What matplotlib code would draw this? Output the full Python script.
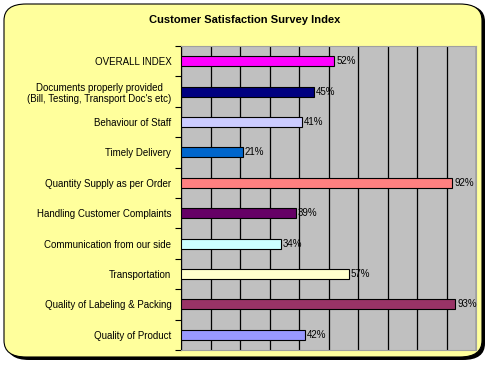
import numpy as np
import matplotlib
matplotlib.use("Agg")
import matplotlib.pyplot as plt
from matplotlib.patches import FancyBboxPatch
from matplotlib.ticker import FixedLocator, NullFormatter

plt.rcParams["font.family"] = ["Liberation Sans", "DejaVu Sans"]

CATEGORIES = ["OVERALL INDEX",
              "Documents properly provided\n(Bill, Testing, Transport Doc's etc)",
              "Behaviour of Staff", "Timely Delivery", "Quantity Supply as per Order",
              "Handling Customer Complaints", "Communication from our side",
              "Transportation", "Quality of Labeling & Packing", "Quality of Product"]
VALUES = [52, 45, 41, 21, 92, 39, 34, 57, 93, 42]
COLORS = ["#FF00FF", "#000080", "#CCCCFF", "#0066CC", "#FF8080",
          "#660066", "#CCFFFF", "#FFFFCC", "#993366", "#9999FF"]

W, H = 491, 365
fig = plt.figure(figsize=(W / 100, H / 100), dpi=100)
fig.patch.set_facecolor("white")

# rounded yellow panel with dark shadow on right/bottom
shadow = FancyBboxPatch((7 / W, 5 / H), 478 / W, 355 / H,
                        boxstyle="round,pad=0,rounding_size=0.045",
                        transform=fig.transFigure, facecolor="black",
                        edgecolor="none", zorder=-2)
panel = FancyBboxPatch((4 / W, 8 / H), 478 / W, 353 / H,
                       boxstyle="round,pad=0,rounding_size=0.045",
                       transform=fig.transFigure, facecolor="#FFFF9C",
                       edgecolor="black", lw=0.8, zorder=-1)
fig.patches.extend([shadow, panel])

ax = fig.add_axes([181 / W, 15 / H, 295 / W, 304 / H])
ax.set_facecolor("#C0C0C0")
y = np.arange(len(CATEGORIES))
ax.barh(y, VALUES, height=0.33, color=COLORS, edgecolor="black", lw=0.8, zorder=3)
for yi, v in zip(y, VALUES):
    ax.text(v + 0.6, yi, f"{v}%", va="center", ha="left", fontsize=7, zorder=4)

ax.set_xlim(0, 100)
ax.set_ylim(len(CATEGORIES) - 0.5, -0.5)
ax.set_xticks(np.arange(0, 101, 10))
ax.tick_params(axis="x", length=0, labelbottom=False)
ax.xaxis.grid(True, color="black", lw=0.9, zorder=1)
ax.set_axisbelow(True)

ax.set_yticks(y)
ax.set_yticklabels(CATEGORIES, fontsize=7, multialignment="center")
ax.tick_params(axis="y", which="major", length=0, pad=7)
ax.yaxis.set_minor_locator(FixedLocator(np.arange(-0.5, len(CATEGORIES), 1)))
ax.yaxis.set_minor_formatter(NullFormatter())
ax.tick_params(axis="y", which="minor", length=4, width=0.8)

for side in ["top", "right", "bottom"]:
    ax.spines[side].set_color("#A0A0A0")
    ax.spines[side].set_linewidth(0.8)
ax.spines["left"].set_color("black")
ax.spines["left"].set_linewidth(0.8)

fig.text(245 / W, 1 - 20 / H, "Customer Satisfaction Survey Index",
         ha="center", va="center", fontsize=8, fontweight="bold")

fig.savefig("out.png", dpi=100)
